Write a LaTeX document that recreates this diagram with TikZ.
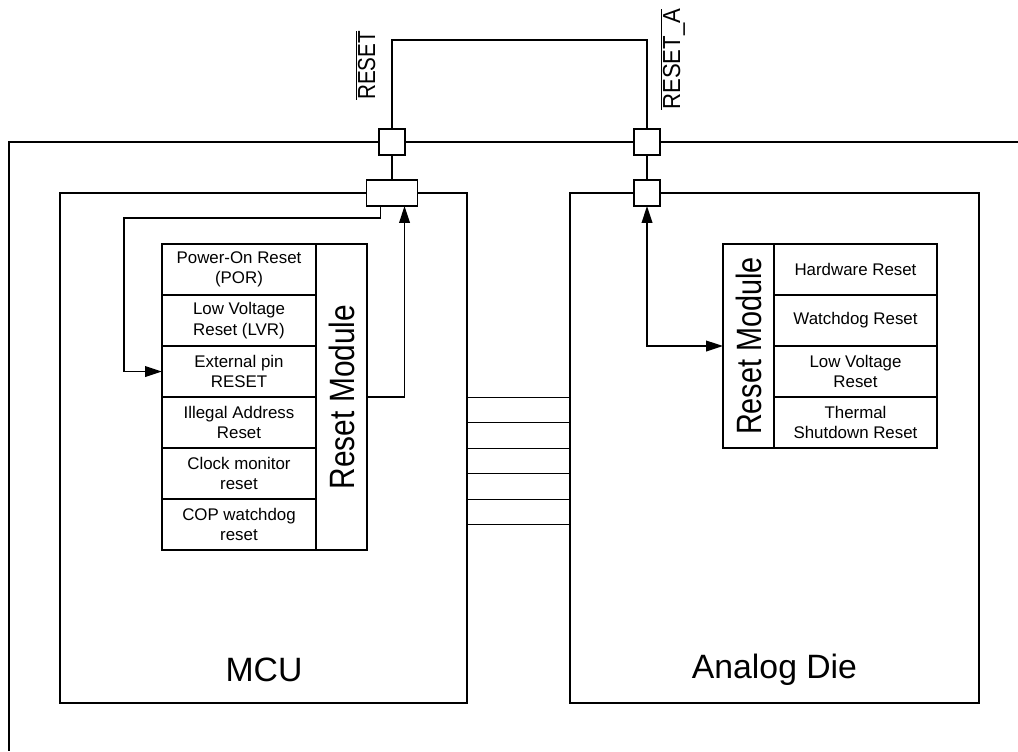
\documentclass[tikz,border=0pt]{standalone}
\usepackage{fontspec}
\setmainfont{Liberation Sans}
\usetikzlibrary{positioning,arrows.meta}

\begin{document}
\begin{tikzpicture}[x=0.025cm,y=-0.025cm,
  wire/.style={line width=1.3pt},
  bus/.style={line width=0.7pt},
  >={Triangle[length=12pt,width=7.5pt]},
  pinbox/.style={draw,line width=1.3pt,fill=white,minimum width=0.65cm,minimum height=0.65cm,inner sep=0pt,outer sep=0pt},
  diebox/.style={draw,line width=1.3pt,minimum height=12.75cm,inner sep=0pt,outer sep=0pt},
  srcL/.style={draw,line width=1.3pt,minimum width=3.85cm,minimum height=1.275cm,inner sep=0pt,outer sep=0pt,align=center,font=\fontsize{12}{14.5}\selectfont},
  srcR/.style={srcL,minimum width=4.075cm},
  modbox/.style={draw,line width=1.3pt,minimum width=1.275cm,inner sep=0pt,outer sep=0pt},
  modtext/.style={rotate=90,font=\fontsize{25}{30}\selectfont},
  bigtext/.style={font=\fontsize{24}{29}\selectfont},
  pintext/.style={rotate=90,inner sep=0pt,font=\fontsize{17.5}{21}\selectfont}]
\useasboundingbox (0,0) rectangle (1018,751);
\draw[wire] (1018,142) -- (9,142) -- (9,751);
\node[diebox,minimum width=10.175cm] (mcu) at (263.5,448) {};
\node[diebox,minimum width=10.225cm] (adie) at (774.5,448) {};
\node[bigtext] (mculbl) at (264,670) {MCU};
\node[bigtext] (adielbl) at (774.5,670) {Analog Die};

\node[pinbox] (pinR) at (392,142) {};
\node[pinbox] (pinRA) at (647,142) {};
\node[pinbox,minimum width=1.275cm] (pinM) at (392,193) {};
\node[pinbox] (pinA) at (647,193) {};

\node[srcL] (por) at (239,269.5) {Power-On Reset\\(POR)};
\node[srcL,below=0pt of por] (lvr) {Low Voltage\\Reset (LVR)};
\node[srcL,below=0pt of lvr] (ext) {External pin\\RESET};
\node[srcL,below=0pt of ext] (ilad) {Illegal Address\\Reset};
\node[srcL,below=0pt of ilad] (clkm) {Clock monitor\\reset};
\node[srcL,below=0pt of clkm] (cop) {COP watchdog\\reset};
\node[modbox,minimum height=7.65cm] (rmL) at (341.5,397) {};
\node[modtext] (rmLtxt) at (rmL) {\scalebox{0.85}[1]{Reset Module}};

\node[modbox,minimum height=5.1cm] (rmR) at (748.5,346) {};
\node[modtext] (rmRtxt) at (rmR) {\scalebox{0.82}[1]{Reset Module}};
\node[srcR] (hwr) at (855.5,269.5) {Hardware Reset};
\node[srcR,below=0pt of hwr] (wdr) {Watchdog Reset};
\node[srcR,below=0pt of wdr] (lvd) {Low Voltage\\Reset};
\node[srcR,below=0pt of lvd] (tsd) {Thermal\\Shutdown Reset};

\coordinate (wtop) at (520,40);
\coordinate (fbL) at (124,218);
\draw[wire] (pinR.north) |- (wtop) -| (pinRA.north);
\draw[wire] (pinR.south) -- (pinM.north);
\draw[wire] (pinRA.south) -- (pinA.north);
\draw[wire,->] ([xshift=0.35cm]pinM.south west) |- (fbL) |- (ext.west);
\draw[wire,->] (rmL.east) -| ([xshift=-0.325cm]pinM.south east);
\draw[wire,<->] (pinA.south) |- (rmR.west);
\foreach \k in {-2,...,3}
  \draw[bus] ([yshift=-\k*0.6375cm]mcu.east) -- ([yshift=-\k*0.6375cm]adie.west);

\node[pintext,anchor=base west] (rstlbl) at (375,100) {$\overline{\mbox{\scalebox{0.84}[1]{RESET}}}$};
\node[pintext,anchor=base west] (rstalbl) at (680,110) {$\overline{\mbox{\scalebox{0.9}[1]{RESET\_A}}}$};
\end{tikzpicture}
\end{document}
